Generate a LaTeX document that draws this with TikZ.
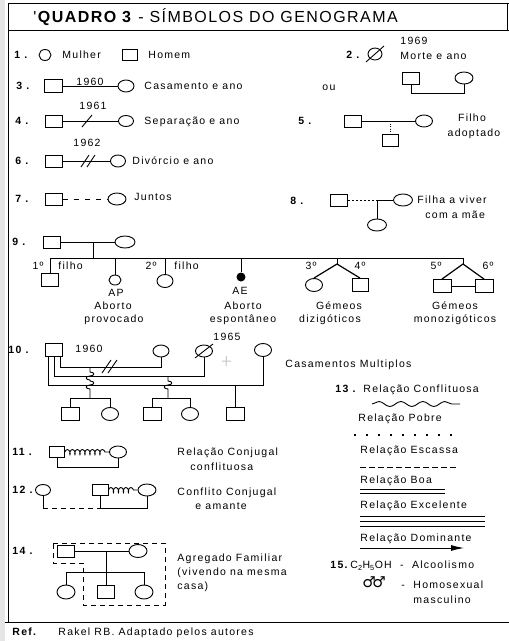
\documentclass[tikz,border=0pt]{standalone}
\usepackage{fontspec}
\setmainfont{Liberation Sans}[LetterSpace=12]
\newfontfamily\titlef{Liberation Sans}[LetterSpace=9]
\newfontfamily\symf{DejaVu Sans}
\usetikzlibrary{shapes.geometric,decorations.pathmorphing,arrows.meta,calc}
\tikzset{
  sq/.style={draw,rectangle,minimum width=17pt,minimum height=12pt,inner sep=0pt},
  ci/.style={draw,ellipse,minimum width=16pt,minimum height=12pt,inner sep=0pt},
  lb/.style={inner sep=0pt,anchor=west,font=\fontsize{10.5}{12}\selectfont,text height=7.6pt,text depth=0pt},
  lc/.style={lb,anchor=center},
  num/.style={lb,font=\fontsize{10.5}{12}\selectfont\bfseries},
  dot/.style={circle,fill,inner sep=0pt,minimum size=9pt},
}
\begin{document}
\begin{tikzpicture}[x=1pt,y=-1pt,line width=0.9pt]
\useasboundingbox (0,0) rectangle (509,641);
\fill[gray!20] (0,0) rectangle (5,641);
% frame
\draw (8,3) -- (509,3);
\draw (8,3) -- (8,622);
\draw (8,30) -- (509,30);
\draw (5,622) -- (509,622);
\draw (507,3) -- (507,30);
\node[anchor=west,inner sep=0pt,font=\titlef\fontsize{16}{18}\selectfont] (title) at (33,17) {'\textbf{QUADRO 3} - SÍMBOLOS DO GENOGRAMA};
% 1
\node[num] (n1) at (14,55) {1 .};
\node[ci,minimum width=12pt,minimum height=11pt] (m1) at (45,55) {};
\node[lb] (t1) at (62,55) {Mulher};
\node[sq,minimum width=15pt,minimum height=11pt] (h1) at (130,55) {};
\node[lb] (t1b) at (148,55) {Homem};
% 2
\node[num] (n2) at (346,55) {2 .};
\node[ci,minimum width=14pt,minimum height=12pt] (d2) at (375,54) {};
\draw ($(d2.center)+(-9,8)$) -- ($(d2.center)+(9,-8)$);
\node[lb] (y2) at (400,41) {1969};
\node[lb] (t2) at (400,56) {Morte e ano};
% 3
\node[num] (n3) at (16,86) {3 .};
\node[sq,minimum width=18pt,minimum height=13pt] (s3) at (53,86) {};
\node[ci] (c3) at (126,86) {};
\draw (s3) -- node[lb,anchor=south,yshift=0.3pt] (y3) {1960} (c3);
\node[lb] (t3) at (144,86) {Casamento e ano};
\node[lb] (ou) at (322,87) {ou};
\node[sq] (s3b) at (411,78) {};
\node[ci,minimum width=18pt] (c3b) at (464,78) {};
\draw (s3b.south) -- ++(0,9) -| (c3b.south);
% 4
\node[num] (n4) at (15,121) {4 .};
\node[sq] (s4) at (54,121) {};
\node[ci,minimum width=15pt,minimum height=11pt] (c4) at (126,121) {};
\draw (s4) -- (c4);
\draw (82,127) -- (92,115);
\node[lc] (y4) at (93,106) {1961};
\node[lb] (t4) at (144,121) {Separação e ano};
% 5
\node[num] (n5) at (298,121) {5 .};
\node[sq] (s5) at (353,121) {};
\node[ci,minimum width=17pt] (c5) at (424,121) {};
\draw (s5) -- (c5);
\coordinate (j5) at (390,121);
\node[sq,minimum width=16pt] (k5) at (390,140) {};
\draw[dash pattern=on 1pt off 1.5pt] (j5) -- (k5);
\node[lc] (t5a) at (472,118) {Filho};
\node[lc] (t5b) at (474,133) {adoptado};
% 6
\node[num] (n6) at (15,161) {6 .};
\node[sq] (s6) at (54,161) {};
\node[ci,minimum width=15pt] (c6) at (118,161) {};
\draw (s6) -- (c6);
\draw (81,167) -- (89,155);
\draw (87,167) -- (95,155);
\node[lc] (y6) at (87,143) {1962};
\node[lb] (t6) at (132,161) {Divórcio e ano};
% 7
\node[num] (n7) at (15,199) {7 .};
\node[sq] (s7) at (54,199) {};
\node[ci,minimum width=18pt] (c7) at (117,199) {};
\draw[dash pattern=on 5pt off 6pt] (s7) -- (c7);
\node[lb] (t7) at (134,197) {Juntos};
% 8
\node[num] (n8) at (290,201) {8 .};
\node[sq] (s8) at (339,200) {};
\node[ci,minimum width=19pt] (c8) at (403,200) {};
\coordinate (j8) at (377,200);
\draw[dash pattern=on 2pt off 2pt] (s8) -- (j8);
\draw (j8) -- (c8);
\node[ci,minimum width=19pt] (k8) at (377,225) {};
\draw (j8) -- (k8);
\node[lb] (t8a) at (417,200) {Filha a viver};
\node[lb] (t8b) at (425,215) {com a mãe};
% 9
\node[num] (n9) at (12,242) {9 .};
\node[sq] (s9) at (52,242) {};
\node[ci,minimum width=20pt] (c9) at (125,242) {};
\draw (s9) -- (c9);
\coordinate (m9) at (93,242);
\coordinate (b9) at (93,258);
\draw (m9) -- (b9);
\coordinate (L9) at (50,258);
\coordinate (R9) at (463,258);
\draw (L9) -- (R9);
\node[sq,minimum height=13pt] (k1) at (50,280) {};
\draw (L9) -- (k1);
\node[lb,anchor=east] (o1) at (44,266) {1º};
\node[lb] (f1) at (58,266) {filho};
\coordinate (tap) at (115,258);
\node[ci,minimum width=12pt,minimum height=10pt] (ap) at (115,280) {};
\draw (tap) -- (ap);
\node[lc] (apl) at (116,293) {AP};
\node[lc] (ap1) at (113,306) {Aborto};
\node[lc] (ap2) at (114,319) {provocado};
\coordinate (t2c) at (165,258);
\node[ci,minimum width=16pt,minimum height=13pt] (k2) at (165,281) {};
\draw (t2c) -- (k2);
\node[lb,anchor=east] (o2) at (157,266) {2º};
\node[lb] (f2) at (174,266) {filho};
\coordinate (tae) at (241,258);
\node[dot] (ae) at (241,277) {};
\draw (tae) -- (ae);
\node[lc] (ael) at (240,291) {AE};
\node[lc] (ae1) at (243,306) {Aborto};
\node[lc] (ae2) at (243,319) {espontâneo};
\coordinate (t3c) at (337,258);
\coordinate (a3) at (337,264);
\draw (t3c) -- (a3);
\node[ci,minimum width=17pt,minimum height=13pt] (k3) at (314,285) {};
\node[sq,minimum width=16pt,minimum height=13pt] (k4) at (360,285) {};
\draw[line width=1.2pt] (k3.north) -- (a3) -- (k4.north);
\node[lc] (o3) at (311,266) {3º};
\node[lc] (o4) at (360,266) {4º};
\node[lc] (g1) at (339,306) {Gémeos};
\node[lc] (g2) at (330,319) {dizigóticos};
\coordinate (a5) at (463,264);
\draw (R9) -- (a5);
\node[sq,minimum width=18pt,minimum height=13pt] (k5b) at (442,286) {};
\node[sq,minimum width=18pt,minimum height=13pt] (k6) at (484,286) {};
\draw[line width=1.2pt] (k5b.north) -- (a5) -- (k6.north);
\draw (k5b) -- (k6);
\node[lc] (o5) at (436,266) {5º};
\node[lc] (o6) at (488,266) {6º};
\node[lc] (g3) at (455,306) {Gémeos};
\node[lc] (g4) at (455,319) {monozigóticos};
% 10
\node[num] (n10) at (8,350) {10 .};
\node[sq,minimum height=13pt] (f10) at (54,350) {};
\node[lb] (y10) at (75,349) {1960};
\node[ci] (w2) at (161,351) {};
\node[ci,minimum width=17pt] (w3) at (204,351) {};
\draw ($(w3.center)+(-9,7)$) -- ($(w3.center)+(9,-7)$);
\node[lb] (y10b) at (213,337) {1965};
\draw[gray!45,line width=1pt] (222,361) -- (231,361) (226.5,356) -- (226,366);
\node[ci,minimum width=17pt,minimum height=13pt] (w4) at (263,350) {};
\coordinate (yA) at (0,367);
\coordinate (yB) at (0,376);
\coordinate (yC) at (0,385);
\draw ([xshift=6pt]f10.south) |- (w2.south |- yA) -- (w2.south);
\draw (f10.south) |- (w3.south |- yB) -- (w3.south);
\draw ([xshift=-6pt]f10.south) |- (w4.south |- yC) -- (w4.south);
\draw (102,373) -- (111,360);
\draw (108,373) -- (117,360);
% children of first marriage
\coordinate (pA) at (90,367);
\coordinate (sA) at (90,398);
\draw (pA) -- (90,372) .. controls (95,372) and (95,376) .. (90,376) .. controls (85,376) and (85,380) .. (90,380)
  -- (90,381) .. controls (95,381) and (95,385) .. (90,385) .. controls (85,385) and (85,389) .. (90,389) -- (sA);
\coordinate (sAl) at (70,398);
\coordinate (sAr) at (110,398);
\draw (sAl) -- (sAr);
\node[sq,minimum width=18pt,minimum height=13pt] (ka1) at (70,414) {};
\node[ci,minimum width=17pt,minimum height=13pt] (ka2) at (110,414) {};
\draw (sAl) -- (ka1);
\draw (sAr) -- (ka2);
% children of second marriage
\coordinate (pB) at (168,376);
\coordinate (sB) at (168,398);
\draw (pB) -- (168,381) .. controls (173,381) and (173,385) .. (168,385) .. controls (163,385) and (163,389) .. (168,389) -- (sB);
\coordinate (sBl) at (152,398);
\coordinate (sBr) at (190,398);
\draw (sBl) -- (sBr);
\node[sq,minimum width=18pt,minimum height=13pt] (kb1) at (152,414) {};
\node[ci,minimum width=17pt,minimum height=13pt] (kb2) at (190,414) {};
\draw (sBl) -- (kb1);
\draw (sBr) -- (kb2);
% child of third
\coordinate (pC) at (235,385);
\node[sq,minimum width=18pt,minimum height=13pt] (kc) at (235,414) {};
\draw (pC) -- (kc);
\node[lb] (cm) at (285,364) {Casamentos Multiplos};
% 13
\node[num] (n13) at (335,389) {13 .};
\node[lb] (r0) at (363,389) {Relação Conflituosa};
\coordinate (wv1) at (372,404);
\coordinate (wv2) at (460,404);
\draw[decorate,decoration={snake,amplitude=2.5pt,segment length=22pt}] (wv1) -- (wv2);
\node[lb] (r1) at (358,418) {Relação Pobre};
\coordinate (p1a) at (354,435);
\coordinate (p1b) at (452,435);
\draw[dash pattern=on 1.5pt off 10.5pt,line width=1.3pt] (p1a) -- (p1b);
\node[lb] (r2) at (360,450) {Relação Escassa};
\coordinate (p2a) at (360,467);
\coordinate (p2b) at (457,467);
\draw[dash pattern=on 6pt off 3pt] (p2a) -- (p2b);
\node[lb] (r3) at (360,480) {Relação Boa};
\draw (360,489) -- (445,489);
\draw (360,493.5) -- (445,493.5);
\node[lb] (r4) at (360,505) {Relação Excelente};
\draw (360,516) -- (485,516);
\draw (360,521) -- (485,521);
\draw (360,526) -- (485,526);
\node[lb] (r5) at (360,538) {Relação Dominante};
\coordinate (arA) at (360,548);
\coordinate (arB) at (464,548);
\draw[-{Latex[length=13pt,width=6pt]}] (arA) -- (arB);
% 15
\node[num] (n15) at (330,565) {15.};
\node[lb] (al) at (350,565) {C\textsubscript{2}H\textsubscript{5}OH\ \ -\ \ Alcoolismo};
\node[lb,font=\symf\fontsize{15}{15}\selectfont] (hm) at (362,584) {♂\kern-3.5pt♂};
\node[lb] (hm1) at (401,585) {-};
\node[lb] (hm2) at (413,585) {Homosexual};
\node[lb] (hm3) at (413,600) {masculino};
% 11
\node[num] (n11) at (12,452) {11 .};
\node[sq,minimum width=15pt,minimum height=11pt] (s11) at (57,452) {};
\node[ci,minimum width=17pt] (c11) at (118,452) {};
\draw[decorate,decoration={coil,amplitude=2.5pt,segment length=5pt,aspect=0.5}] (s11.east) -- (c11.west);
\draw (s11.south) -- ++(0,9) -| (c11.south);
\node[lb] (t11a) at (177,452) {Relação Conjugal};
\node[lb] (t11b) at (190,467) {conflituosa};
% 12
\node[num] (n12) at (12,490) {12 .};
\node[ci,minimum width=15pt,minimum height=11pt] (l12) at (43,490) {};
\node[sq,minimum width=16pt,minimum height=11pt] (s12) at (100,490) {};
\node[ci,minimum width=18pt] (c12) at (147,490) {};
\draw[decorate,decoration={coil,amplitude=2.5pt,segment length=5pt,aspect=0.5}] (s12.east) -- (c12.west);
\coordinate (b12) at (0,508);
\draw (s12.south) |- (c12.south |- b12) -- (c12.south);
\draw (l12.south) -- (l12.south |- b12);
\draw[dash pattern=on 5pt off 4pt] (l12.south |- b12) -- (s12.south |- b12);
\node[lb] (t12a) at (177,492) {Conflito Conjugal};
\node[lb] (t12b) at (195,506) {e amante};
% 14
\node[num] (n14) at (12,551) {14 .};
\node[sq,minimum width=17pt,minimum height=12pt] (s14) at (66,551) {};
\node[ci,minimum width=18pt,minimum height=13pt] (c14) at (138,551) {};
\draw (s14) -- (c14);
\coordinate (m14) at (106,551);
\coordinate (b14) at (106,572);
\draw (m14) -- (b14);
\coordinate (b14l) at (66,572);
\coordinate (b14r) at (144,572);
\draw (b14l) -- (b14r);
\node[ci,minimum width=18pt,minimum height=14pt] (k14a) at (66,592) {};
\node[sq,minimum width=17pt,minimum height=13pt] (k14b) at (106,592) {};
\node[ci,minimum width=18pt,minimum height=14pt] (k14c) at (144,592) {};
\draw (b14l) -- (k14a);
\draw (b14) -- (k14b);
\draw (b14r) -- (k14c);
\draw[dash pattern=on 5pt off 4pt] (53,543) -- (165,543) -- (165,605) -- (83,605) -- (83,563) -- (53,563) -- cycle;
\node[lb] (t14a) at (177,558) {Agregado Familiar};
\node[lb] (t14b) at (177,572) {(vivendo na mesma};
\node[lb] (t14c) at (177,586) {casa)};
% ref
\node[lb,font=\fontsize{10.5}{12}\selectfont\bfseries] (ref) at (12,632) {Ref.};
\node[lb] (refb) at (58,632) {Rakel RB. Adaptado pelos autores};
\end{tikzpicture}
\end{document}
